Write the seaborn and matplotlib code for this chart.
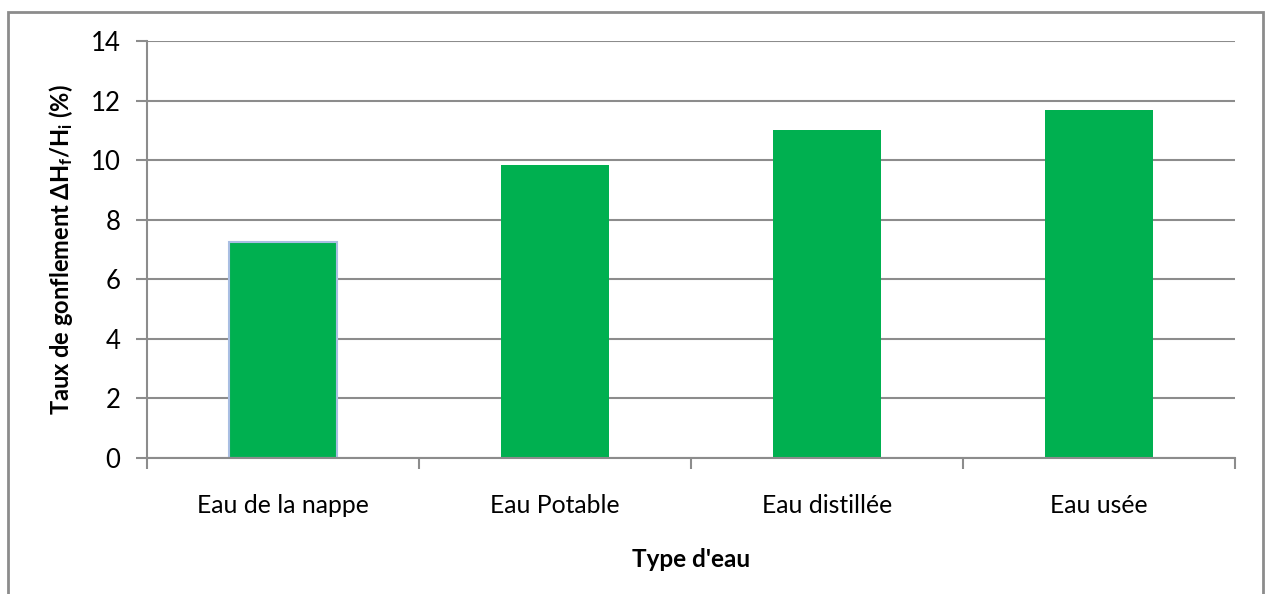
import matplotlib
matplotlib.use("Agg")
import matplotlib.pyplot as plt
import seaborn as sns
import pandas as pd
from matplotlib.patches import Rectangle

categories = ["Eau de la nappe", "Eau Potable", "Eau distillée", "Eau usée"]
values = [7.25, 9.85, 11.0, 11.7]
yticks = [0, 2, 4, 6, 8, 10, 12, 14]

sns.set_theme(style="white")
plt.rcParams['font.family'] = ['Lato', 'DejaVu Sans']
plt.rcParams['mathtext.fontset'] = 'custom'
plt.rcParams['mathtext.rm'] = 'Lato:bold'
plt.rcParams['mathtext.bf'] = 'Lato:bold'
plt.rcParams['mathtext.it'] = 'Lato:bold'

df = pd.DataFrame({"cat": categories, "val": values})

fig = plt.figure(figsize=(12.67, 5.94), dpi=100)
ax = fig.add_axes([147/1267, 1-458/594, (1235-147)/1267, (458-41)/594])

green = "#00B050"
grid = "#8C8C8C"
sns.barplot(data=df, x="cat", y="val", color=green, saturation=1, width=0.4, ax=ax, zorder=3)
for i, p in enumerate(ax.patches):
    p.set_edgecolor("#A9BEE2" if i == 0 else green)
    p.set_linewidth(1.5 if i == 0 else 0)

ax.set_xlim(-0.5, 3.5)
ax.set_ylim(0, 14)
ax.set_yticks(yticks)
ax.set_yticklabels([str(t) for t in yticks])
ax.yaxis.grid(True, color=grid, linewidth=1.5, zorder=0)
ax.set_axisbelow(True)
for s in ["top", "right"]:
    ax.spines[s].set_visible(False)
for s in ["left", "bottom"]:
    ax.spines[s].set_color(grid)
    ax.spines[s].set_linewidth(1.5)
    ax.spines[s].set_zorder(4)

ax.set_xticks([-0.5, 0.5, 1.5, 2.5, 3.5], minor=True)
ax.tick_params(axis="x", which="minor", length=8, width=1.5, color=grid, bottom=True)
ax.tick_params(axis="x", which="major", length=0, pad=26, labelsize=17.8, labelcolor="black")
ax.tick_params(axis="y", which="major", length=8, width=1.5, color=grid, left=True, labelsize=18.5, labelcolor="black", pad=11)

ax.set_xlabel("Type d'eau", fontsize=17.5, fontweight="bold", color="black", labelpad=22)
ax.set_ylabel(r"Taux de gonflement ΔH$_\mathrm{f}$/H$_\mathrm{i}$ (%)", fontsize=17,
              fontweight="bold", color="black", labelpad=11)

border = Rectangle((8/1267, -0.05), (1263-8)/1267, 1.05 - 12/594, transform=fig.transFigure,
                   fill=False, edgecolor="#8C8C8C", linewidth=2)
fig.patches.append(border)

fig.savefig("out.png", dpi=100)
